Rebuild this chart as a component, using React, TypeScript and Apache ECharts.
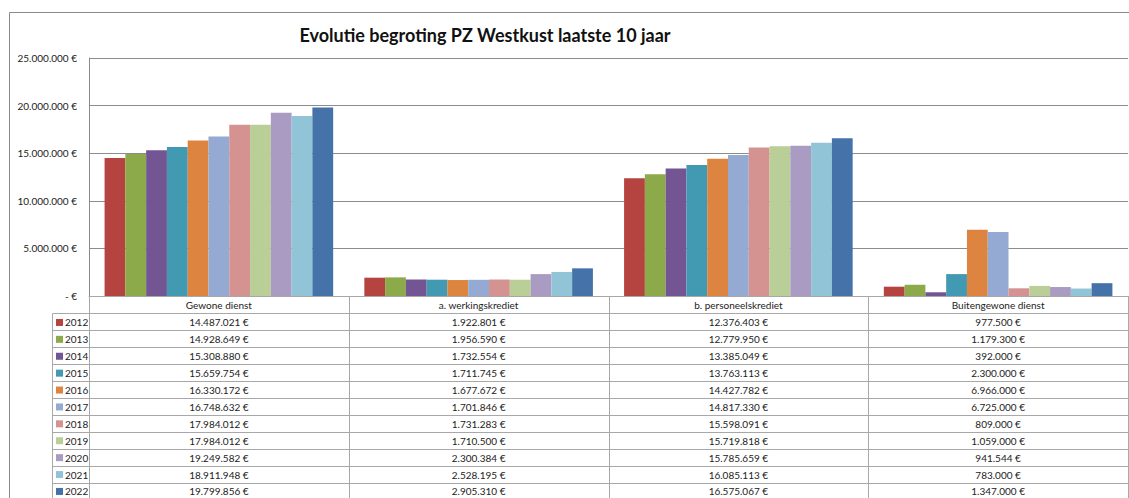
import React, { useEffect, useRef } from "react";
import * as echarts from "echarts";

const categories = ["Gewone dienst", "a. werkingskrediet", "b. personeelskrediet", "Buitengewone dienst"];
const years = ["2012", "2013", "2014", "2015", "2016", "2017", "2018", "2019", "2020", "2021", "2022"];
const gewoneDienst = [14487021, 14928649, 15308880, 15659754, 16330172, 16748632, 17984012, 17984012, 19249582, 18911948, 19799856];
const werkingskrediet = [1922801, 1956590, 1732554, 1711745, 1677672, 1701846, 1731283, 1710500, 2300384, 2528195, 2905310];
const personeelskrediet = [12376403, 12779950, 13385049, 13763113, 14427782, 14817330, 15598091, 15719818, 15785659, 16085113, 16575067];
const buitengewoneDienst = [977500, 1179300, 392000, 2300000, 6966000, 6725000, 809000, 1059000, 941544, 783000, 1347000];
const yearColors = ["#B5433F", "#8DAA4B", "#735593", "#4199B2", "#DD8440", "#94AAD2", "#D49391", "#BACF97", "#AA9BC2", "#92C4D7", "#4572A9"];
const yTicks = [0, 5000000, 10000000, 15000000, 20000000, 25000000];

const fmt = (v: number) => (v === 0 ? "- €" : String(v).replace(/\B(?=(\d{3})+(?!\d))/g, ".") + " €");

const W = 1129;
const H = 498;
const GL = 89;
const GR = 1128;
const GT = 58;
const GB = 296;
const FONT = "Lato";

export default function App() {
  const ref = useRef<HTMLDivElement>(null);
  useEffect(() => {
    document.body.style.margin = "0";
    if (!ref.current) return;
    const chart = echarts.init(ref.current, null, { renderer: "svg" });
    const table = [gewoneDienst, werkingskrediet, personeelskrediet, buitengewoneDienst];
    const series = years.map((y, i) => ({
      name: y,
      type: "bar",
      data: table.map((col) => col[i]),
      itemStyle: { color: yearColors[i] },
      barGap: "0%",
      barCategoryGap: "12%",
    }));

    const colW = (GR - GL) / categories.length;
    const headerBottom = 313.5;
    const rowH = 16.9;
    const lineStyle = { stroke: "#A8A8A8", lineWidth: 1 };
    const graphics: any[] = [];
    // outer chart border
    graphics.push({ type: "line", shape: { x1: 9.5, y1: 12.5, x2: W + 5, y2: 12.5 }, style: { stroke: "#8A8A8A", lineWidth: 1 } });
    graphics.push({ type: "line", shape: { x1: 9.5, y1: 12.5, x2: 9.5, y2: H + 5 }, style: { stroke: "#8A8A8A", lineWidth: 1 } });
    // title
    graphics.push({
      type: "text",
      x: 485,
      y: 35,
      style: { text: "Evolutie begroting PZ Westkust laatste 10 jaar", font: `bold 18px ${FONT}`, fill: "#111", align: "center", verticalAlign: "middle" },
    });
    // table horizontal lines
    graphics.push({ type: "line", shape: { x1: 52.5, y1: headerBottom, x2: GR, y2: headerBottom }, style: lineStyle });
    for (let i = 1; i <= years.length; i++) {
      const y = Math.round(headerBottom + i * rowH) + 0.5;
      graphics.push({ type: "line", shape: { x1: 52.5, y1: y, x2: GR, y2: y }, style: lineStyle });
    }
    // vertical lines
    graphics.push({ type: "line", shape: { x1: 52.5, y1: headerBottom, x2: 52.5, y2: H + 5 }, style: lineStyle });
    for (let c = 0; c <= categories.length; c++) {
      const x = Math.round(GL + c * colW) + 0.5;
      graphics.push({ type: "line", shape: { x1: x, y1: GB, x2: x, y2: H + 5 }, style: lineStyle });
    }
    // header texts
    categories.forEach((cat, c) => {
      graphics.push({
        type: "text",
        x: GL + (c + 0.5) * colW,
        y: (GB + headerBottom) / 2 + 0.5,
        style: { text: cat, font: `10px ${FONT}`, fill: "#222", align: "center", verticalAlign: "middle" },
      });
    });
    // rows
    years.forEach((yr, i) => {
      const cy = headerBottom + (i + 0.5) * rowH + 0.5;
      graphics.push({ type: "rect", shape: { x: 56, y: cy - 3.5, width: 7, height: 7 }, style: { fill: yearColors[i] } });
      graphics.push({
        type: "text",
        x: 65,
        y: cy,
        style: { text: yr, font: `10px ${FONT}`, fill: "#222", align: "left", verticalAlign: "middle" },
      });
      table.forEach((col, c) => {
        graphics.push({
          type: "text",
          x: GL + (c + 0.5) * colW,
          y: cy,
          style: { text: fmt(col[i]), font: `10px ${FONT}`, fill: "#222", align: "center", verticalAlign: "middle" },
        });
      });
    });

    chart.setOption({
      animation: false,
      textStyle: { fontFamily: FONT },
      grid: { left: GL, right: W - GR, top: GT, bottom: H - GB, containLabel: false },
      xAxis: {
        type: "category",
        data: categories,
        axisLabel: { show: false },
        axisTick: { show: false },
        axisLine: { show: true, lineStyle: { color: "#A8A8A8" } },
      },
      yAxis: {
        type: "value",
        min: yTicks[0],
        max: yTicks[yTicks.length - 1],
        interval: yTicks[1] - yTicks[0],
        axisLine: { show: true, lineStyle: { color: "#8A8A8A" } },
        axisTick: { show: false },
        splitLine: { show: true, lineStyle: { color: "#8C8C8C" } },
        axisLabel: { formatter: (v: number) => fmt(v), fontSize: 10, color: "#222", margin: 12, fontFamily: FONT },
      },
      series,
      graphic: graphics,
    });
    return () => chart.dispose();
  }, []);
  return <div ref={ref} style={{ width: W, height: H }} />;
}
